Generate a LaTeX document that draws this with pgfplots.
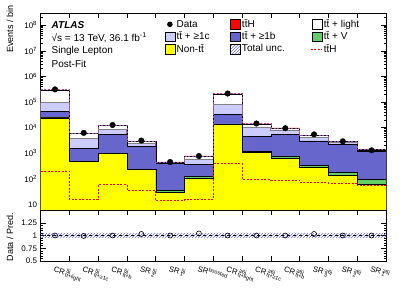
\documentclass[border=0pt]{standalone}
\usepackage{fontspec}
\setmainfont{Liberation Sans}
\usepackage{pgfplots}
\pgfplotsset{compat=1.18}
\usetikzlibrary{patterns}
\definecolor{cnontt}{RGB}{255,255,0}
\definecolor{cttv}{RGB}{102,204,102}
\definecolor{cb}{RGB}{102,102,204}
\definecolor{cc}{RGB}{204,204,255}
\definecolor{cunc}{RGB}{110,110,235}
\newcommand\tbar{t\={t}}
\newcommand\lab[3]{#1\,\rlap{\textsuperscript{#2}}\textsubscript{#3}}
\pgfplotsset{
  boxleg/.style={legend image code/.code={\draw[##1] (0pt,-4.8pt) rectangle (10pt,4.8pt);}},
  dashleg/.style={legend image code/.code={\path[draw=none, fill=none] (0pt,-4.8pt) rectangle (10pt,4.8pt);\draw[red, solid, dash pattern=on 2pt off 1.5pt, line width=0.9pt] (-1pt,0pt) -- (10pt,0pt);}},
  dotleg/.style={legend image code/.code={\path[draw=none, fill=none] (0pt,-4.8pt) rectangle (10pt,4.8pt);\fill[black, draw=none] (5pt,0pt) circle (2.8pt);}},
  common/.style={
    scale only axis, width=345.4pt, xmin=0, xmax=12,
    xtick={0,...,12}, xticklabels={},
    tick align=inside, xtick pos=both, ytick pos=both,
    major tick length=5pt, minor tick length=2.5pt,
    axis line style={line width=0.7pt},
    every tick/.style={black, line width=0.5pt},
    yticklabel style={font=\fontsize{8}{9}\selectfont},
  }
}
\begin{document}
\begin{tikzpicture}
\useasboundingbox (0pt,0pt) rectangle (407pt,292pt);
% ---------------- upper panel ----------------
\begin{axis}[common, at={(40.6pt,82pt)}, anchor=south west, height=197pt,
  ymode=log, ymin=6, ymax=3e8,
  ytick={10,100,1000,10000,100000,1000000,10000000,100000000},
  yticklabels={10,10\textsuperscript{2},10\textsuperscript{3},10\textsuperscript{4},10\textsuperscript{5},10\textsuperscript{6},10\textsuperscript{7},10\textsuperscript{8}},
  minor ytick={6,7,8,9,20,30,40,50,60,70,80,90,200,300,400,500,600,700,800,900,2000,3000,4000,5000,6000,7000,8000,9000,20000,30000,40000,50000,60000,70000,80000,90000,200000,300000,400000,500000,600000,700000,800000,900000,2000000,3000000,4000000,5000000,6000000,7000000,8000000,9000000,20000000,30000000,40000000,50000000,60000000,70000000,80000000,90000000,200000000,300000000},
  ylabel={Events / bin},
  ylabel style={at={(axis description cs:-0.089,1.056)}, anchor=east, font=\fontsize{9}{10}\selectfont},
  legend style={at={(axis description cs:0.35,0.985)}, anchor=north west, draw=none, fill=none,
    font=\fontsize{10}{11}\selectfont, nodes={inner sep=1.5pt}, column sep=0pt, row sep=0pt},
  legend columns=3, legend cell align=left,
]
% stacked layers (cumulative tops), drawn from top layer downwards
% ttH on top (total)
\addplot[forget plot, const plot, fill=red, draw=black, line width=0.4pt] coordinates {
(0,1)(0,300200)(1,6116)(2,12460)(3,2935)(4,454)(5,775)(6,210400)(7,14090)(8,9690)(9,5070)(10,2920)(11,1374)(12,1374)(12,1)};
% tt+light
\addplot[forget plot, const plot, fill=white, draw=black, line width=0.4pt] coordinates {
(0,1)(0,300000)(1,6100)(2,12400)(3,2900)(4,440)(5,760)(6,210000)(7,14000)(8,9600)(9,5000)(10,2850)(11,1320)(12,1320)(12,1)};
% tt+>=1c
\addplot[forget plot, const plot, fill=cc, draw=gray, line width=1pt] coordinates {
(0,1)(0,92000)(1,3700)(2,8300)(3,2350)(4,410)(5,590)(6,79000)(7,10500)(8,7400)(9,4100)(10,2500)(11,1200)(12,1200)(12,1)};
% tt+>=1b
\addplot[forget plot, const plot, fill=cb, draw=black, line width=0.4pt] coordinates {
(0,1)(0,43400)(1,1500)(2,5300)(3,1860)(4,390)(5,364)(6,32000)(7,4600)(8,5300)(9,3000)(10,2200)(11,1150)(12,1150)(12,1)};
% tt+V
\addplot[forget plot, const plot, fill=cttv, draw=black, line width=0.4pt] coordinates {
(0,1)(0,24500)(1,480)(2,990)(3,240)(4,35)(5,121)(6,13800)(7,1200)(8,740)(9,325)(10,178)(11,92)(12,92)(12,1)};
% Non-tt
\addplot[forget plot, const plot, fill=cnontt, draw=black, line width=0.4pt] coordinates {
(0,1)(0,23700)(1,470)(2,960)(3,234)(4,28.6)(5,104)(6,13400)(7,1070)(8,630)(9,270)(10,133)(11,60)(12,60)(12,1)};
% total uncertainty outline on top of stack
\addplot[forget plot, const plot, cunc!70!red, dash pattern=on 2pt off 1.5pt, line width=0.6pt] coordinates {
(0,300200)(1,6116)(2,12460)(3,2935)(4,454)(5,775)(6,210400)(7,14090)(8,9690)(9,5070)(10,2920)(11,1374)(12,1374)};
% ttH signal (dashed, not stacked)
\addplot[forget plot, const plot, red, dash pattern=on 2pt off 1.5pt, line width=0.9pt] coordinates {
(0,200)(1,15.7)(2,59)(3,35)(4,13.7)(5,15.3)(6,390)(7,92)(8,87)(9,71)(10,68)(11,54)(12,54)};
% data
\addplot[forget plot, only marks, mark=*, mark size=2.8pt, black] coordinates {
(0.5,310000)(1.5,6200)(2.5,12600)(3.5,3100)(4.5,450)(5.5,770)(6.5,214000)(7.5,14400)(8.5,9400)(9.5,5400)(10.5,2900)(11.5,1290)};
% legend
\addlegendimage{dotleg}
\addlegendentry{\makebox[52pt][l]{Data}}
\addlegendimage{boxleg, fill=red, draw=black}
\addlegendentry{\makebox[67pt][l]{\tbar H}}
\addlegendimage{boxleg, fill=white, draw=black}
\addlegendentry{\tbar{} + light}
\addlegendimage{boxleg, fill=cc, draw=black}
\addlegendentry{\makebox[52pt][l]{\tbar{} + ≥1c}}
\addlegendimage{boxleg, fill=cb, draw=black}
\addlegendentry{\makebox[67pt][l]{\tbar{} + ≥1b}}
\addlegendimage{boxleg, fill=cttv, draw=black}
\addlegendentry{\tbar{} + V}
\addlegendimage{boxleg, fill=cnontt, draw=black}
\addlegendentry{\makebox[52pt][l]{Non-\tbar}}
\addlegendimage{boxleg, pattern=north east lines, pattern color=cunc, draw=none}
\addlegendentry{\makebox[67pt][l]{Total unc.}}
\addlegendimage{dashleg}
\addlegendentry{\tbar H}
\node[anchor=west, font=\fontsize{10}{11}\selectfont\bfseries\itshape] at (axis description cs:0.022,0.939) {ATLAS};
\node[anchor=west, font=\fontsize{10}{11}\selectfont] at (axis description cs:0.022,0.873) {√s = 13 TeV, 36.1 fb\textsuperscript{-1}};
\node[anchor=west, font=\fontsize{10}{11}\selectfont] at (axis description cs:0.022,0.807) {Single Lepton};
\node[anchor=west, font=\fontsize{10}{11}\selectfont] at (axis description cs:0.022,0.741) {Post-Fit};
\end{axis}
% ---------------- ratio panel ----------------
\begin{axis}[common, at={(40.6pt,31pt)}, anchor=south west, height=51pt,
  ymin=0.5, ymax=1.5, ytick={0.5,0.75,1,1.25}, yticklabels={0.5,0.75,1,1.25},
  minor y tick num=4,
  ylabel={Data / Pred.},
  ylabel style={at={(axis description cs:-0.089,0.47)}, anchor=center, font=\fontsize{9}{10}\selectfont},
  extra x ticks={0.5,1.5,2.5,3.5,4.5,5.5,6.5,7.5,8.5,9.5,10.5,11.5},
  extra x tick labels={\lab{CR}{5j}{\tbar+light},\lab{CR}{5j}{\tbar+≥1c},\lab{CR}{5j}{\tbar+b},\lab{SR}{5j}{2},\lab{SR}{5j}{1},SR\textsuperscript{boosted},\lab{CR}{≥6j}{\tbar+light},\lab{CR}{≥6j}{\tbar+≥1c},\lab{CR}{≥6j}{\tbar+b},\lab{SR}{≥6j}{3},\lab{SR}{≥6j}{2},\lab{SR}{≥6j}{1}},
  extra x tick style={major tick length=0pt, tick label style={rotate=-18, anchor=north west, xshift=-2pt, font=\fontsize{7.8}{9}\selectfont}},
]
\addplot[forget plot, draw=none, pattern=north east lines, pattern color=cunc] coordinates {(0,0.97)(12,0.97)(12,1.03)(0,1.03)};
\addplot[forget plot, const plot, black, dashed, line width=0.6pt] coordinates {(0,1)(12,1)};
\addplot[forget plot, only marks, mark=o, mark size=2.5pt, black, line width=0.6pt] coordinates {
(0.5,1.0)(1.5,0.99)(2.5,1.0)(3.5,1.03)(4.5,1.0)(5.5,1.04)(6.5,1.0)(7.5,1.0)(8.5,1.0)(9.5,1.03)(10.5,1.0)(11.5,1.0)};
\end{axis}
\end{tikzpicture}
\end{document}
